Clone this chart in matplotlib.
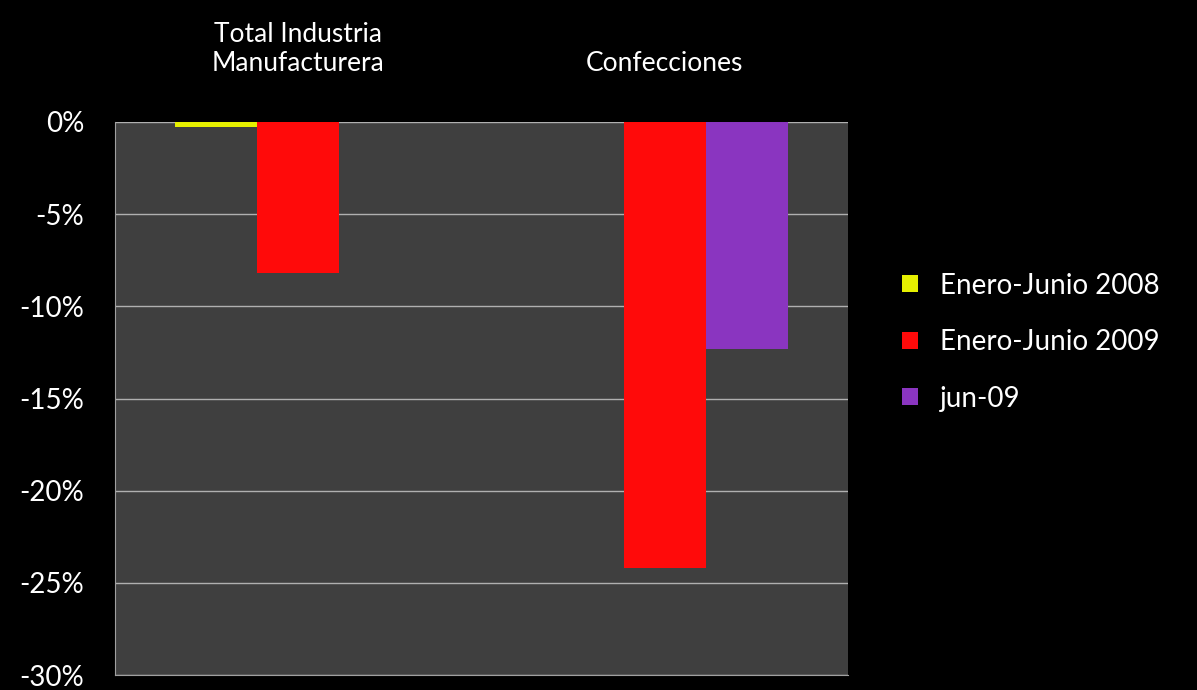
import numpy as np
import matplotlib
matplotlib.use("Agg")
import matplotlib.pyplot as plt
from matplotlib.ticker import FuncFormatter

# data (growth, %)
categories = ["Total Industria\nManufacturera", "Confecciones"]
series_names = ["Enero-Junio 2008", "Enero-Junio 2009", "jun-09"]
ene_jun_2008 = [-0.25, 0.0]
ene_jun_2009 = [-8.2, -24.2]
jun_09 = [0.0, -12.3]
series_colors = ["#e6f000", "#ff0a0a", "#8a35c0"]

plt.rcParams['font.family'] = ['Lato', 'DejaVu Sans']

fig = plt.figure(figsize=(11.97, 6.9), dpi=100, facecolor="black")
ax = fig.add_axes([115 / 1197, 15 / 690, 733 / 1197, 553 / 690])
ax.set_facecolor("#3f3f3f")

x = np.arange(len(categories))
w = 0.224
for i, (vals, name, col) in enumerate(zip([ene_jun_2008, ene_jun_2009, jun_09], series_names, series_colors)):
    ax.bar(x + (i - 1) * w, vals, width=w, color=col, label=name, zorder=3)

ax.set_xlim(-0.5, 1.5)
ax.set_ylim(-30, 0)
ax.set_yticks(np.arange(-30, 1, 5))
ax.yaxis.set_major_formatter(FuncFormatter(lambda v, p: f"{v:.0f}%"))
ax.grid(axis="y", color="#b0b0b0", linewidth=1, zorder=1)

ax.xaxis.tick_top()
ax.set_xticks(x)
ax.set_xticklabels(categories, linespacing=1.2)
ax.tick_params(axis="x", length=0, pad=33, labelsize=19, colors="white")
ax.tick_params(axis="y", length=0, pad=22, labelsize=20, colors="white")

for s in ["top", "right"]:
    ax.spines[s].set_visible(False)
for s in ["left", "bottom"]:
    ax.spines[s].set_color("#a0a0a0")

leg = ax.legend(loc="center left", bbox_to_anchor=(1.04, 0.602), frameon=False,
                fontsize=20, labelcolor="white", handlelength=0.55, handleheight=0.55,
                labelspacing=1.1, handletextpad=0.8)

fig.savefig("out.png", facecolor="black")
